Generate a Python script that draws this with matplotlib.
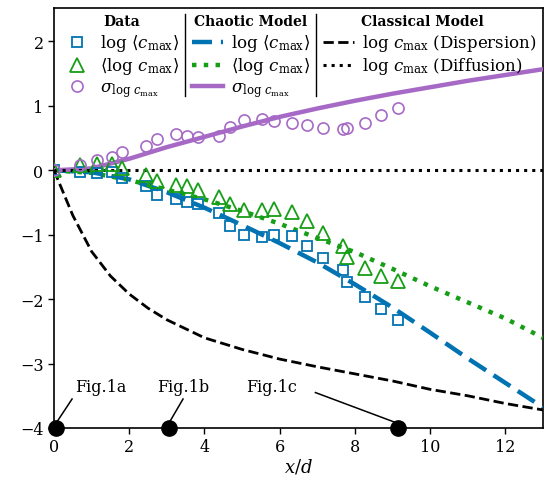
import matplotlib
matplotlib.use("Agg")
import matplotlib.pyplot as plt
from matplotlib.lines import Line2D

plt.rcParams['font.family'] = ['DejaVu Serif']
plt.rcParams['mathtext.fontset'] = 'dejavuserif'

# ---- data ----
x_data = [0.0, 0.69, 1.14, 1.54, 1.81, 2.45, 2.73, 3.24, 3.53, 3.82, 4.39, 4.68,
          5.05, 5.53, 5.85, 6.33, 6.73, 7.15, 7.68, 7.79, 8.27, 8.70, 9.15]
log_mean = [0.0, -0.02, -0.04, -0.02, -0.12, -0.25, -0.39, -0.45, -0.49, -0.53, -0.67, -0.86,
            -1.01, -1.04, -1.00, -1.02, -1.17, -1.36, -1.55, -1.73, -1.96, -2.16, -2.33]
mean_log = [0.0, 0.09, 0.10, 0.10, 0.03, -0.08, -0.17, -0.23, -0.25, -0.30, -0.41, -0.53,
            -0.61, -0.61, -0.60, -0.64, -0.79, -0.98, -1.17, -1.35, -1.51, -1.64, -1.72]
sigma_log = [0.0, 0.09, 0.16, 0.20, 0.28, 0.37, 0.49, 0.56, 0.54, 0.51, 0.54, 0.67,
             0.78, 0.80, 0.76, 0.73, 0.70, 0.66, 0.64, 0.65, 0.73, 0.86, 0.96]

x_model = [0, 1, 2, 3, 4, 5, 6, 7, 8, 9, 10, 11, 12, 13]
chaos_log_mean = [0, -0.03, -0.14, -0.34, -0.58, -0.85, -1.13, -1.43, -1.77, -2.13, -2.52, -2.92, -3.30, -3.68]
chaos_mean_log = [0, -0.04, -0.15, -0.30, -0.45, -0.63, -0.83, -1.05, -1.27, -1.53, -1.80, -2.05, -2.30, -2.60]
chaos_sigma = [0, 0.03, 0.18, 0.36, 0.52, 0.68, 0.83, 0.96, 1.08, 1.19, 1.29, 1.39, 1.48, 1.57]

x_disp = [0, 0.25, 0.5, 1, 1.5, 2, 2.5, 3, 4, 5, 6, 7, 8, 9, 10, 11, 12, 13]
disp = [0, -0.35, -0.70, -1.26, -1.64, -1.92, -2.14, -2.32, -2.60, -2.78, -2.93, -3.05,
        -3.16, -3.27, -3.40, -3.50, -3.62, -3.72]
x_diff = [0, 13]
diff = [0, 0]

fig_x = [0.05, 3.05, 9.15]
fig_labels = ['Fig.1a', 'Fig.1b', 'Fig.1c']
fig_text_x = [0.55, 2.75, 5.1]
fig_line_start = [(0.48, -3.55), (3.43, -3.55), (6.95, -3.45)]

BLUE = '#0173b2'
GREEN = '#169e16'
PURPLE = '#a66ac6'

fig = plt.figure(figsize=(5.45, 4.81), dpi=100)
ax = fig.add_axes([54/545, 52/481, 489/545, 420/481])

# models
l_cl, = ax.plot(x_model, chaos_log_mean, color=BLUE, lw=3.2, dashes=(4.5, 2.0), zorder=3)
l_cm, = ax.plot(x_model, chaos_mean_log, color=GREEN, lw=3.2, linestyle=':', zorder=3)
l_cs, = ax.plot(x_model, chaos_sigma, color=PURPLE, lw=3.2, zorder=3)
l_disp, = ax.plot(x_disp, disp, color='k', lw=2.0, linestyle='--', zorder=3)
l_diff, = ax.plot(x_diff, diff, color='k', lw=2.2, linestyle=':', zorder=3)

# data
m_lm, = ax.plot(x_data, log_mean, 's', mfc='none', mec=BLUE, ms=7.5, mew=1.3, zorder=4)
m_ml, = ax.plot(x_data, mean_log, '^', mfc='none', mec=GREEN, ms=10, mew=1.3, zorder=4)
m_sd, = ax.plot(x_data, sigma_log, 'o', mfc='none', mec=PURPLE, ms=8, mew=1.2, zorder=4)

# Fig markers
ax.plot(fig_x, [-4]*3, 'o', color='k', ms=11, clip_on=False, zorder=6)
for fx, lab, tx, (sx, sy) in zip(fig_x, fig_labels, fig_text_x, fig_line_start):
    ax.text(tx, -3.42, lab, fontsize=11.5, ha='left', va='baseline')
    ax.plot([sx, fx], [sy, -3.93], color='k', lw=1.1, zorder=5)

ax.set_xlim(0, 13)
ax.set_ylim(-4, 2.52)
ax.set_xticks([0, 2, 4, 6, 8, 10, 12])
ax.set_yticks([-4, -3, -2, -1, 0, 1, 2])
ax.tick_params(labelsize=11.5, length=4, width=1)
for s in ax.spines.values():
    s.set_linewidth(1.2)
ax.set_xlabel('$x/d$', fontsize=13, labelpad=1)

blank = Line2D([], [], linestyle='none')
handles = [m_lm, m_ml, m_sd, l_cl, l_cm, l_cs, l_disp, l_diff, blank]
labels = [r'$\log\,\langle c_{\max}\rangle$', r'$\langle\log\, c_{\max}\rangle$',
          r'$\sigma_{\log\, c_{\max}}$',
          r'$\log\,\langle c_{\max}\rangle$', r'$\langle\log\, c_{\max}\rangle$',
          r'$\sigma_{\log\, c_{\max}}$',
          r'$\log\, c_{\max}$ (Dispersion)', r'$\log\, c_{\max}$ (Diffusion)', '']
leg = ax.legend(handles, labels, ncol=3, loc='upper left', bbox_to_anchor=(0.016, 0.942),
                frameon=False, fontsize=12, borderpad=0, borderaxespad=0,
                handlelength=1.85, handletextpad=0.45, columnspacing=0.8, labelspacing=0.12)

for hx, htxt in zip([0.139, 0.401, 0.753], ['Data', 'Chaotic Model', 'Classical Model']):
    ax.text(hx, 0.970, htxt, transform=ax.transAxes, ha='center', va='center',
            fontsize=10, fontweight='bold')
for sxp in [0.268, 0.536]:
    ax.plot([sxp, sxp], [0.79, 0.986], transform=ax.transAxes, color='k', lw=1.0)

fig.savefig('out.png', dpi=100)
